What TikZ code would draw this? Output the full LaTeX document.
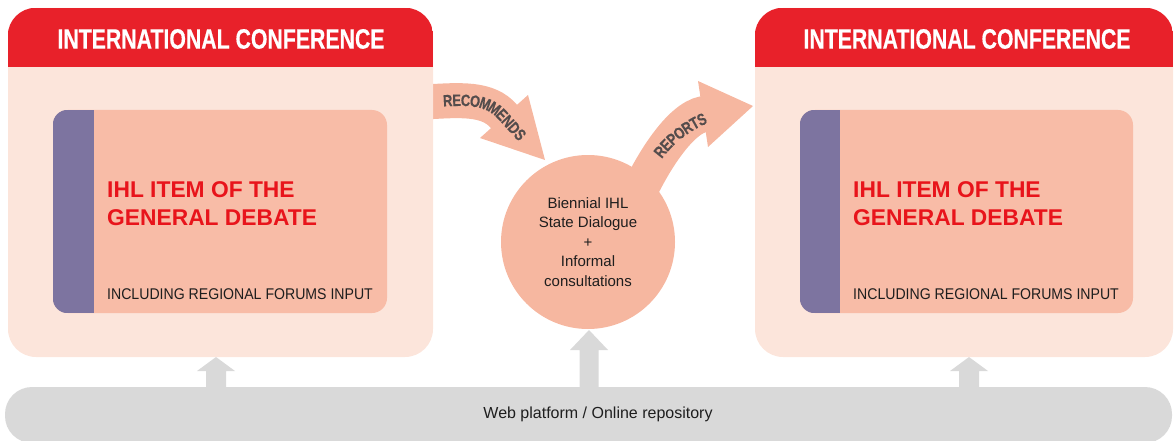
\documentclass[tikz,border=0pt]{standalone}
\usepackage{fontspec}
\setmainfont{Liberation Sans}
\newfontfamily\condfont[FakeStretch=0.76,FakeBold=0.4]{Liberation Sans}
\newfontfamily\narrowfont[FakeStretch=0.91]{Liberation Sans}
\newfontfamily\arrfont[FakeStretch=0.78,FakeBold=0.3]{Liberation Sans}
\usetikzlibrary{decorations.text,backgrounds,calc}
\definecolor{confred}{HTML}{E8212A}
\definecolor{conflight}{HTML}{FCE5DB}
\definecolor{itemsalmon}{HTML}{F8BCA7}
\definecolor{itempurple}{HTML}{7D74A0}
\definecolor{itemred}{HTML}{E8141B}
\definecolor{flowsalmon}{HTML}{F6B7A0}
\definecolor{bargray}{HTML}{D9D9D9}
\definecolor{labelgray}{HTML}{544C4C}
\definecolor{bodytext}{HTML}{1E1E1E}
\newcommand\mytitlefont{\condfont\bfseries\fontsize{28}{30}\selectfont}
\newcommand\myitemfont{\bfseries\fontsize{22.8}{28}\selectfont}
\newcommand\mysubfont{\narrowfont\fontsize{15.5}{18}\selectfont}
\newcommand\mycirclefont{\fontsize{15}{19.5}\selectfont}
\newcommand\myarrowfont{\arrfont\bfseries\fontsize{16.5}{16.5}\selectfont}
\begin{document}
\begin{tikzpicture}[x=1pt,y=-1pt,
  confbox/.style={rectangle, fill=conflight, rounded corners=28pt, inner sep=0pt},
  itembox/.style={rectangle, fill=itemsalmon, rounded corners=15pt, inner sep=0pt},
  titletext/.style={text=white, font=\mytitlefont, inner sep=0pt},
  itemtext/.style={text=itemred, font=\myitemfont, align=left, anchor=west, inner sep=0pt},
  subtext/.style={text=bodytext, font=\mysubfont, anchor=west, inner sep=0pt},
  hubcircle/.style={circle, fill=flowsalmon, minimum size=174pt, inner sep=0pt, align=center, font=\mycirclefont, text=bodytext},
  barbox/.style={rectangle, fill=bargray, rounded corners=27pt, inner sep=0pt},
  flowband/.style={draw=flowsalmon, line cap=butt},
  flowlabel/.style={decorate, decoration={text along path, text color=labelgray, text align=center}}
]
\useasboundingbox (0,0) rectangle (1174,441);

% bottom bar
\node[barbox, minimum width=1167pt, minimum height=56pt] (webbar) at (588.5,415) {};
\node[font=\fontsize{16}{18}\selectfont, text=bodytext, inner sep=0pt] (webtext) at (598,414) {Web platform / Online repository};

% up arrows from the bar
\fill[bargray] (206,388) -- (206,371) -- (197,371) -- (216,357) -- (235,371) -- (226,371) -- (226,388) -- cycle;
\fill[bargray] (579.5,388) -- (579.5,350) -- (570,350) -- (589,330) -- (608,350) -- (598.5,350) -- (598.5,388) -- cycle;
\fill[bargray] (959,388) -- (959,371) -- (950,371) -- (969,357) -- (988,371) -- (979,371) -- (979,388) -- cycle;

% left conference
\node[confbox, minimum width=425pt, minimum height=349pt] (conf1) at (220.5,182.5) {};
\begin{scope}
  \clip[rounded corners=28pt] (conf1.north west) rectangle (conf1.south east);
  \fill[confred] (conf1.north west) rectangle ($(conf1.north east)+(0,59)$);
\end{scope}
\node[titletext] (title1) at (221,39) {INTERNATIONAL CONFERENCE};
\node[itembox, minimum width=334pt, minimum height=203pt] (item1) at (220,211.5) {};
\begin{scope}
  \clip[rounded corners=15pt] (item1.north west) rectangle (item1.south east);
  \fill[itempurple] (item1.north west) rectangle ($(item1.south west)+(41,0)$);
\end{scope}
\node[itemtext] (ihl1) at (107,204) {IHL ITEM OF THE\\GENERAL DEBATE};
\node[subtext] (sub1) at (107,294) {INCLUDING REGIONAL FORUMS INPUT};

% right conference
\node[confbox, minimum width=418pt, minimum height=349pt] (conf2) at (964,182.5) {};
\begin{scope}
  \clip[rounded corners=28pt] (conf2.north west) rectangle (conf2.south east);
  \fill[confred] (conf2.north west) rectangle ($(conf2.north east)+(0,59)$);
\end{scope}
\node[titletext] (title2) at (967,39) {INTERNATIONAL CONFERENCE};
\node[itembox, minimum width=333pt, minimum height=203pt] (item2) at (966.5,211.5) {};
\begin{scope}
  \clip[rounded corners=15pt] (item2.north west) rectangle (item2.south east);
  \fill[itempurple] (item2.north west) rectangle ($(item2.south west)+(40,0)$);
\end{scope}
\node[itemtext] (ihl2) at (853,204) {IHL ITEM OF THE\\GENERAL DEBATE};
\node[subtext] (sub2) at (853,294) {INCLUDING REGIONAL FORUMS INPUT};

% central circle
\node[hubcircle] (hub) at (588,242) {Biennial IHL\\State Dialogue\\+\\Informal\\consultations};

% curved block arrows
\begin{scope}[on background layer]
  \draw[flowband, line width=35pt] (425,102) .. controls (460,100) and (488,97.5) .. (504,116.5) -- (507,120);
  \fill[flowsalmon] (528,95) -- (545,160) -- (480,138) -- cycle;
  \draw[flowband, line width=36pt] (640,190) .. controls (652,165) and (679,118.5) .. (704,114) -- (707,113.5);
  \fill[flowsalmon] (698,81) -- (753,106) -- (708,147) -- cycle;
\end{scope}
\path[flowlabel, decoration={text={|\myarrowfont|RECOMMENDS}, raise=-6pt}]
  (436,101) .. controls (468,99) and (488,98) .. (504,116.5) -- (528,143);
\path[flowlabel, decoration={text={|\myarrowfont|REPORTS}, raise=-6pt}]
  (648,170) .. controls (660,146) and (686,121) .. (722,112);
\end{tikzpicture}
\end{document}
